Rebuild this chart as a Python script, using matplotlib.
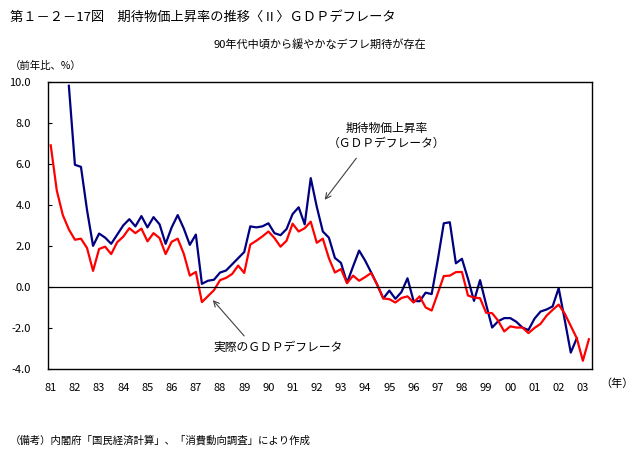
import numpy as np
import matplotlib
matplotlib.use("Agg")
import matplotlib.pyplot as plt

plt.rcParams['font.family'] = ['Noto Sans CJK JP', 'DejaVu Sans']

nan = np.nan

# quarterly, 1981Q1 - 2003Q2
years = ['81', '82', '83', '84', '85', '86', '87', '88', '89', '90', '91', '92',
         '93', '94', '95', '96', '97', '98', '99', '00', '01', '02', '03']

# 実際のGDPデフレータ
actual = [6.9, 4.7, 3.5, 2.8,
          2.3, 2.35, 1.9, 0.78,
          1.85, 1.96, 1.6, 2.18,
          2.45, 2.86, 2.62, 2.84,
          2.22, 2.62, 2.38, 1.6,
          2.2, 2.35, 1.62, 0.55,
          0.73, -0.74, -0.45, -0.16,
          0.33, 0.44, 0.63, 1.04,
          0.68, 2.06, 2.25, 2.46,
          2.7, 2.38, 1.96, 2.25,
          3.08, 2.7, 2.86, 3.18,
          2.15, 2.35, 1.4, 0.7,
          0.87, 0.18, 0.55, 0.3,
          0.48, 0.68, 0.1, -0.56,
          -0.6, -0.76, -0.54, -0.46,
          -0.76, -0.46, -1.0, -1.15,
          -0.32, 0.53, 0.55, 0.72,
          0.73, -0.42, -0.52, -0.55,
          -1.26, -1.28, -1.65, -2.17,
          -1.92, -1.98, -1.98, -2.25,
          -2.0, -1.8, -1.4, -1.12,
          -0.86, -1.3, -1.9, -2.5,
          -3.6, -2.55]

# 期待物価上昇率（GDPデフレータ）
expected = [nan, nan, nan, 9.8,
            5.95, 5.85, 3.75, 2.0,
            2.6, 2.4, 2.1, 2.55,
            3.0, 3.3, 2.95, 3.45,
            2.9, 3.4, 3.05, 2.1,
            2.9, 3.5, 2.85, 2.05,
            2.55, 0.15, 0.3, 0.35,
            0.7, 0.8, 1.1, 1.4,
            1.7, 2.95, 2.9, 2.95,
            3.1, 2.62, 2.52, 2.82,
            3.55, 3.88, 3.05, 5.3,
            3.9, 2.7, 2.4, 1.41,
            1.17, 0.2, 1.0, 1.77,
            1.28, 0.7, 0.1, -0.56,
            -0.18, -0.58, -0.25, 0.42,
            -0.68, -0.7, -0.28, -0.35,
            1.3, 3.1, 3.15, 1.15,
            1.37, 0.4, -0.68, 0.33,
            -0.85, -1.98, -1.67, -1.52,
            -1.52, -1.7, -1.98, -2.1,
            -1.55, -1.2, -1.1, -0.95,
            -0.06, -1.6, -3.2, -2.5,
            nan, nan]

yticks = [10, 8, 6, 4, 2, 0, -2, -4]

x = np.arange(len(actual))

fig = plt.figure(figsize=(6.42, 4.51), dpi=100)
ax = fig.add_axes([0.0743, 0.1818, 0.8477, 0.6371])

ax.plot(x, expected, color='#000080', lw=1.6)
ax.plot(x, actual, color='#ff0000', lw=1.6)
ax.axhline(0, color='black', lw=0.9)

ax.set_xlim(-0.5, len(actual) - 0.5)
ax.set_ylim(-4, 10)
ax.set_yticks(yticks)
ax.set_yticklabels(['%.1f' % v for v in yticks], fontsize=8)
ax.set_xticks(np.arange(0, len(actual), 4))
ax.set_xticklabels(years, fontsize=8)
ax.tick_params(axis='y', direction='in', length=3, width=0.8, pad=12)
ax.tick_params(axis='x', length=0, pad=10)
for s in ax.spines.values():
    s.set_linewidth(1.0)

ax.annotate('', xy=(323, 451 - 202), xycoords='figure pixels',
            xytext=(358, 451 - 156), textcoords='figure pixels',
            arrowprops=dict(arrowstyle='->', color='#404040', lw=0.8))
ax.annotate('', xy=(211, 451 - 298), xycoords='figure pixels',
            xytext=(246, 451 - 338), textcoords='figure pixels',
            arrowprops=dict(arrowstyle='->', color='#404040', lw=0.8))

fig.text(387 / 642, 1 - 128 / 451, '期待物価上昇率', fontsize=8.5, ha='center', va='center')
fig.text(387 / 642, 1 - 143 / 451, '（ＧＤＰデフレータ）', fontsize=8.5, ha='center', va='center')
fig.text(213 / 642, 1 - 347 / 451, '実際のＧＤＰデフレータ', fontsize=8.5, ha='left', va='center')

fig.text(10 / 642, 1 - 17 / 451, '第１－２－17図　期待物価上昇率の推移〈Ⅱ〉ＧＤＰデフレータ',
         fontsize=9.5, ha='left', va='center')
fig.text(320 / 642, 1 - 44 / 451, '90年代中頃から緩やかなデフレ期待が存在',
         fontsize=8, ha='center', va='center')
fig.text(10 / 642, 1 - 66 / 451, '（前年比、%）', fontsize=7.5, ha='left', va='center')
fig.text(600 / 642, 1 - 384 / 451, '（年）', fontsize=8, ha='left', va='center')
fig.text(10 / 642, 1 - 440 / 451, '（備考）内閣府「国民経済計算」、「消費動向調査」により作成',
         fontsize=7.5, ha='left', va='center')

fig.savefig('out.png', dpi=100)
